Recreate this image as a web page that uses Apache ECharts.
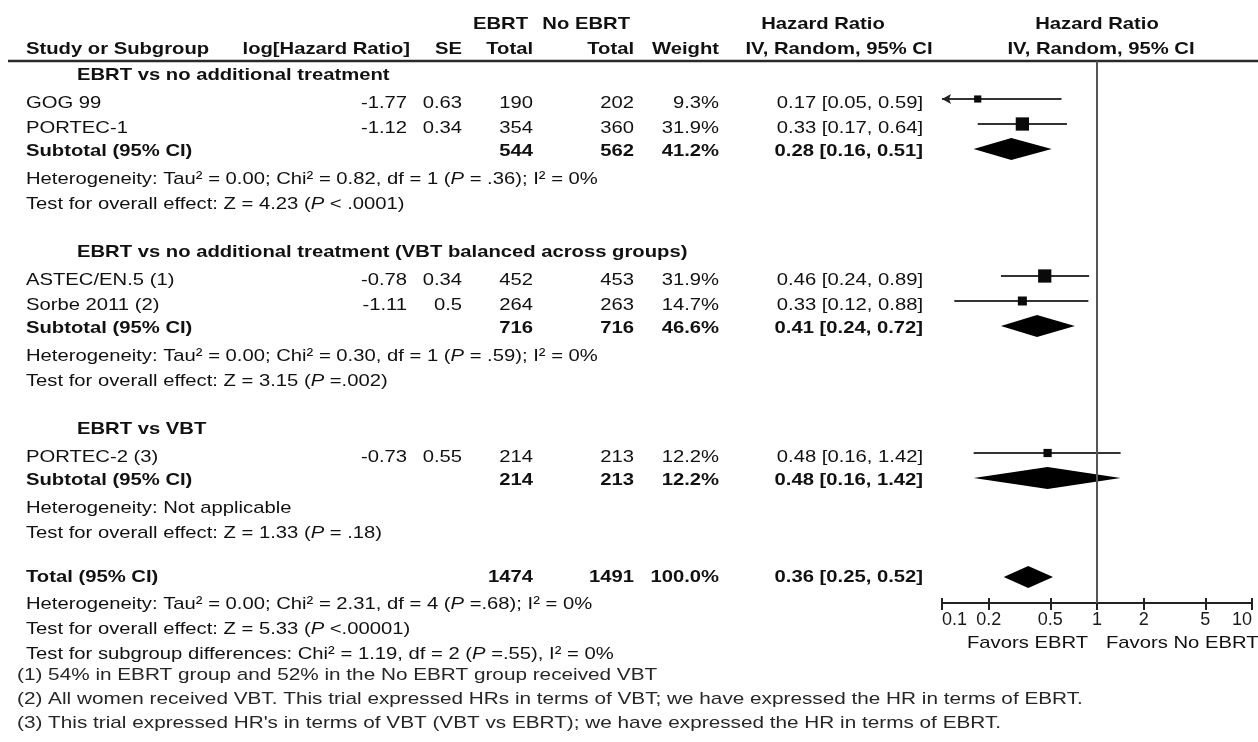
<!DOCTYPE html>
<html><head><meta charset="utf-8">
<script src="https://cdn.jsdelivr.net/npm/echarts@6/dist/echarts.min.js"></script>
<style>html,body{margin:0;padding:0;background:#fff}#main{width:1258px;height:742px}</style>
</head><body><div id="main"></div>
<script>
// ---------------- DATA ----------------
const groupNames = ['EBRT vs no additional treatment', 'EBRT vs no additional treatment (VBT balanced across groups)', 'EBRT vs VBT'];
const studyNames = ['GOG 99', 'PORTEC-1', 'ASTEC/EN.5 (1)', 'Sorbe 2011 (2)', 'PORTEC-2 (3)'];
const studyGroup = [0, 0, 1, 1, 2];
const studyLogHR = [-1.77, -1.12, -0.78, -1.11, -0.73];
const studySE = [0.63, 0.34, 0.34, 0.5, 0.55];
const studyEbrtN = [190, 354, 452, 264, 214];
const studyNoEbrtN = [202, 360, 453, 263, 213];
const studyWeight = [9.3, 31.9, 31.9, 14.7, 12.2];
const studyHR = [0.17, 0.33, 0.46, 0.33, 0.48];
const studyLow = [0.05, 0.17, 0.24, 0.12, 0.16];
const studyHigh = [0.59, 0.64, 0.89, 0.88, 1.42];
const subEbrtN = [544, 716, 214];
const subNoEbrtN = [562, 716, 213];
const subWeight = [41.2, 46.6, 12.2];
const subHR = [0.28, 0.41, 0.48];
const subLow = [0.16, 0.24, 0.16];
const subHigh = [0.51, 0.72, 1.42];
const subHeterogeneity = [
  'Heterogeneity: Tau² = 0.00; Chi² = 0.82, df = 1 (P = .36); I² = 0%',
  'Heterogeneity: Tau² = 0.00; Chi² = 0.30, df = 1 (P = .59); I² = 0%',
  'Heterogeneity: Not applicable'
];
const subOverall = [
  'Test for overall effect: Z = 4.23 (P < .0001)',
  'Test for overall effect: Z = 3.15 (P =.002)',
  'Test for overall effect: Z = 1.33 (P = .18)'
];
const totalEbrtN = 1474;
const totalNoEbrtN = 1491;
const totalWeight = 100.0;
const totalHR = 0.36;
const totalLow = 0.25;
const totalHigh = 0.52;
const totalHeterogeneity = 'Heterogeneity: Tau² = 0.00; Chi² = 2.31, df = 4 (P =.68); I² = 0%';
const totalOverall = 'Test for overall effect: Z = 5.33 (P <.00001)';
const subgroupDiff = 'Test for subgroup differences: Chi² = 1.19, df = 2 (P =.55), I² = 0%';
const footnotes = [
  '(1) 54% in EBRT group and 52% in the No EBRT group received VBT',
  '(2) All women received VBT. This trial expressed HRs in terms of VBT; we have expressed the HR in terms of EBRT.',
  "(3) This trial expressed HR's in terms of VBT (VBT vs EBRT); we have expressed the HR in terms of EBRT."
];
const axisTicks = [0.1, 0.2, 0.5, 1, 2, 5, 10];
const favorsLabels = ['Favors EBRT', 'Favors No EBRT'];
const headerTop = ['EBRT', 'No EBRT', 'Hazard Ratio', 'Hazard Ratio'];
const headerBottom = ['Study or Subgroup', 'log[Hazard Ratio]', 'SE', 'Total', 'Total', 'Weight', 'IV, Random, 95% CI', 'IV, Random, 95% CI'];

// ---------------- LAYOUT ----------------
const L = {
  hdr1: 24, hdr2: 49, rule: 61, axisY: 603, favors: 643,
  gFirst: 26, g: 48, sAfterG: 28.5, s: 25, sub: 22.5, het: 28.5, test: 24.5,
  total: 44, totHet: 27.5, totTest: 25, diff: 25, noteFirst: 21, note: 24,
  studyMark: -4.5, subMark: -2, totalMark: 0, diamondHalf: 11, sqK: 2.35
};
const COL = {
  name: 26, group: 77, note: 17, logHR: 407, logHRHead: 410, se: 462,
  ebrt: 533, ebrtHead: 528, noEbrt: 634, noEbrtHead: 630, weight: 719,
  hrText: 923, hrHead: 823, hrHead2: 839, plotHead2Dx: 4, ruleL: 8, ruleR: 1258
};
const SX = 1.19, SX_NOTE = 1.22, FS = 17;
const FF = '"Liberation Sans", Arial, Helvetica, sans-serif';
const TXT = '#111';
const TXT_NOTE = '#262626';

// ---------------- ROWS ----------------
const rows = [];
rows.push({kind: 'hdr1', y: L.hdr1});
rows.push({kind: 'hdr2', y: L.hdr2});
let cy = L.hdr2;
const add = (kind, gap, p) => { cy += gap; rows.push(Object.assign({kind, y: cy}, p || {})); };
groupNames.forEach((g, gi) => {
  add('group', gi === 0 ? L.gFirst : L.g, {text: g});
  let first = true;
  studyNames.forEach((n, i) => {
    if (studyGroup[i] !== gi) return;
    add('study', first ? L.sAfterG : L.s, {i});
    first = false;
  });
  add('subtotal', L.sub, {gi});
  add('plain', L.het, {text: subHeterogeneity[gi]});
  add('plain', L.test, {text: subOverall[gi]});
});
add('total', L.total);
add('plain', L.totHet, {text: totalHeterogeneity});
add('plain', L.totTest, {text: totalOverall});
add('plain', L.diff, {text: subgroupDiff});
footnotes.forEach((f, k) => add('note', k === 0 ? L.noteFirst : L.note, {text: f}));
rows.push({kind: 'favors', y: L.favors});

const fmtHR = (h, lo, hi) => h.toFixed(2) + ' [' + lo.toFixed(2) + ', ' + hi.toFixed(2) + ']';

// forest marks: [log10 hr, y, log10 lo, log10 hi, weight, kind]
const marks = [];
rows.forEach(r => {
  if (r.kind === 'study') {
    const i = r.i;
    marks.push([Math.log10(studyHR[i]), r.y + L.studyMark, Math.log10(studyLow[i]), Math.log10(studyHigh[i]), studyWeight[i], 0]);
  } else if (r.kind === 'subtotal') {
    const g = r.gi;
    marks.push([Math.log10(subHR[g]), r.y + L.subMark, Math.log10(subLow[g]), Math.log10(subHigh[g]), subWeight[g], 1]);
  } else if (r.kind === 'total') {
    marks.push([Math.log10(totalHR), r.y + L.totalMark, Math.log10(totalLow), Math.log10(totalHigh), totalWeight, 1]);
  }
});

function T(x, y, text, align, bold, sx, color) {
  const fill = color || TXT;
  return {
    type: 'text', x: x, y: y, scaleX: sx || SX,
    style: {
      text: text, x: 0, y: 0, align: align, textAlign: align,
      verticalAlign: 'middle', textVerticalAlign: 'middle',
      fill: fill, fontSize: FS, fontFamily: FF, fontWeight: bold ? 'bold' : 'normal',
      rich: { i: { fontStyle: 'italic', fontSize: FS, fontFamily: FF, fill: fill } }
    }
  };
}
const ital = s => s.replace(/\(P /g, '({i|P} ');

function renderText(params, api) {
  const r = rows[params.dataIndex];
  const p = api.coord([0, r.y]);
  const y = p[1], one = p[0];
  let ch = [];
  switch (r.kind) {
    case 'hdr1':
      ch = [T(COL.ebrtHead, y, headerTop[0], 'right', 1), T(COL.noEbrtHead, y, headerTop[1], 'right', 1),
            T(COL.hrHead, y, headerTop[2], 'center', 1), T(one, y, headerTop[3], 'center', 1)];
      break;
    case 'hdr2': {
      const ry = api.coord([0, L.rule])[1];
      ch = [T(COL.name, y, headerBottom[0], 'left', 1), T(COL.logHRHead, y, headerBottom[1], 'right', 1),
            T(COL.se, y, headerBottom[2], 'right', 1), T(COL.ebrt, y, headerBottom[3], 'right', 1),
            T(COL.noEbrt, y, headerBottom[4], 'right', 1), T(COL.weight, y, headerBottom[5], 'right', 1),
            T(COL.hrHead2, y, headerBottom[6], 'center', 1), T(one + COL.plotHead2Dx, y, headerBottom[7], 'center', 1),
            {type: 'line', shape: {x1: COL.ruleL, y1: ry, x2: COL.ruleR, y2: ry}, style: {stroke: '#2a2a2a', lineWidth: 2.5}}];
      break;
    }
    case 'group':
      ch = [T(COL.group, y, r.text, 'left', 1)];
      break;
    case 'study': {
      const i = r.i;
      ch = [T(COL.name, y, studyNames[i], 'left', 0), T(COL.logHR, y, String(studyLogHR[i]), 'right', 0),
            T(COL.se, y, String(studySE[i]), 'right', 0), T(COL.ebrt, y, String(studyEbrtN[i]), 'right', 0),
            T(COL.noEbrt, y, String(studyNoEbrtN[i]), 'right', 0), T(COL.weight, y, studyWeight[i].toFixed(1) + '%', 'right', 0),
            T(COL.hrText, y, fmtHR(studyHR[i], studyLow[i], studyHigh[i]), 'right', 0)];
      break;
    }
    case 'subtotal': {
      const g = r.gi;
      ch = [T(COL.name, y, 'Subtotal (95% CI)', 'left', 1), T(COL.ebrt, y, String(subEbrtN[g]), 'right', 1),
            T(COL.noEbrt, y, String(subNoEbrtN[g]), 'right', 1), T(COL.weight, y, subWeight[g].toFixed(1) + '%', 'right', 1),
            T(COL.hrText, y, fmtHR(subHR[g], subLow[g], subHigh[g]), 'right', 1)];
      break;
    }
    case 'total':
      ch = [T(COL.name, y, 'Total (95% CI)', 'left', 1), T(COL.ebrt, y, String(totalEbrtN), 'right', 1),
            T(COL.noEbrt, y, String(totalNoEbrtN), 'right', 1), T(COL.weight, y, totalWeight.toFixed(1) + '%', 'right', 1),
            T(COL.hrText, y, fmtHR(totalHR, totalLow, totalHigh), 'right', 1)];
      break;
    case 'plain':
      ch = [T(COL.name, y, ital(r.text), 'left', 0)];
      break;
    case 'note':
      ch = [T(COL.note, y, r.text, 'left', 0, SX_NOTE, TXT_NOTE)];
      break;
    case 'favors':
      ch = [T(one - 9, y, favorsLabels[0], 'right', 0), T(one + 9, y, favorsLabels[1], 'left', 0)];
      break;
  }
  return {type: 'group', children: ch};
}

function renderForest(params, api) {
  const yv = api.value(1);
  const c = api.coord([api.value(0), yv]);
  const cx = c[0], yy = c[1];
  const lo = api.value(2), hi = api.value(3);
  const xmin = Math.log10(axisTicks[0]), xmax = Math.log10(axisTicks[axisTicks.length - 1]);
  const xl = api.coord([Math.max(lo, xmin), yv])[0];
  const xh = api.coord([Math.min(hi, xmax), yv])[0];
  if (api.value(5) === 0) {
    const ch = [{type: 'line', shape: {x1: xl, y1: yy, x2: xh, y2: yy}, style: {stroke: '#333', lineWidth: 2}}];
    if (lo < xmin) ch.push({type: 'polygon', shape: {points: [[xl, yy], [xl + 9, yy - 5], [xl + 7, yy], [xl + 9, yy + 5]]}, style: {fill: '#222'}});
    if (hi > xmax) ch.push({type: 'polygon', shape: {points: [[xh, yy], [xh - 9, yy - 5], [xh - 7, yy], [xh - 9, yy + 5]]}, style: {fill: '#222'}});
    const s = L.sqK * Math.sqrt(api.value(4));
    ch.push({type: 'rect', shape: {x: cx - s / 2, y: yy - s / 2, width: s, height: s}, style: {fill: '#0a0a0a'}});
    return {type: 'group', children: ch};
  }
  const h = L.diamondHalf;
  return {type: 'polygon', shape: {points: [[xl, yy], [cx, yy - h], [xh, yy], [cx, yy + h]]}, style: {fill: '#000'}};
}

const chart = echarts.init(document.getElementById('main'));
const tickLog = axisTicks.map(v => Math.log10(v));
const xMin = tickLog[0], xMax = tickLog[tickLog.length - 1];
chart.setOption({
  animation: false,
  backgroundColor: '#fff',
  grid: {left: 942, right: 6, top: L.rule, bottom: 742 - L.axisY, containLabel: false, outerBoundsMode: 'none'},
  xAxis: [
    {
      type: 'value', min: xMin, max: xMax, position: 'bottom',
      axisLine: {show: true, onZero: false, lineStyle: {color: '#222', width: 2}},
      axisTick: {show: true, customValues: tickLog, length: 7, lineStyle: {color: '#222', width: 2}},
      axisLabel: {
        show: true, customValues: tickLog, margin: 8, fontSize: 18, fontFamily: FF, color: '#1a1a1a',
        alignMinLabel: 'left', alignMaxLabel: 'right',
        formatter: v => { const n = Math.pow(10, v); return n < 1 ? n.toFixed(1) : String(Math.round(n)); }
      },
      splitLine: {show: false}
    },
    {
      type: 'value', min: xMin, max: xMax, position: 'bottom',
      axisLine: {show: false, onZero: false},
      axisTick: {show: true, inside: true, customValues: tickLog, length: 5, lineStyle: {color: '#222', width: 2}},
      axisLabel: {show: false},
      splitLine: {show: false}
    }
  ],
  yAxis: {type: 'value', min: L.rule, max: L.axisY, inverse: true, show: false, splitLine: {show: false}},
  series: [
    {
      type: 'custom', name: 'table', silent: true, clip: false,
      renderItem: renderText,
      data: rows.map(r => [0, r.y])
    },
    {
      type: 'custom', name: 'forest', silent: true, clip: false,
      renderItem: renderForest,
      data: marks,
      markLine: {
        silent: true, symbol: 'none', label: {show: false},
        lineStyle: {color: '#555', width: 2, type: 'solid'},
        data: [{xAxis: 0}]
      }
    }
  ]
});
</script></body></html>
